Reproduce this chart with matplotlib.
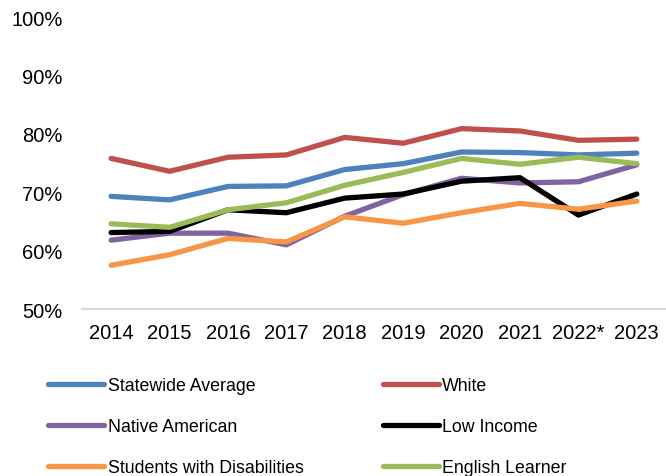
import matplotlib.pyplot as plt

plt.rcParams['font.family'] = ['Liberation Sans', 'DejaVu Sans']

years = ['2014', '2015', '2016', '2017', '2018', '2019', '2020', '2021', '2022*', '2023']

statewide = [69.3, 68.7, 71.0, 71.1, 73.9, 74.9, 76.9, 76.8, 76.4, 76.7]
white = [75.8, 73.6, 76.0, 76.4, 79.4, 78.4, 80.9, 80.5, 78.9, 79.1]
native = [61.8, 63.0, 63.0, 61.0, 65.9, 69.6, 72.4, 71.6, 71.8, 74.7]
low_income = [63.1, 63.3, 67.0, 66.5, 69.0, 69.7, 71.9, 72.5, 66.1, 69.7]
swd = [57.5, 59.3, 62.1, 61.5, 65.8, 64.7, 66.5, 68.1, 67.1, 68.5]
english = [64.6, 64.0, 67.0, 68.2, 71.2, 73.4, 75.8, 74.8, 76.0, 74.9]

series = [
    ('Statewide Average', statewide, '#4F81BD'),
    ('White', white, '#C0504D'),
    ('Native American', native, '#8064A2'),
    ('Low Income', low_income, '#000000'),
    ('Students with Disabilities', swd, '#F79646'),
    ('English Learner', english, '#9BBB59'),
]

fig = plt.figure(figsize=(6.66, 4.77), dpi=100)
ax = fig.add_axes([0.123, 0.35, 0.877, 0.612])

x = range(len(years))
handles = {}
for name, vals, col in series:
    h, = ax.plot(x, vals, color=col, lw=3.8, solid_capstyle='round',
                 solid_joinstyle='round', label=name)
    handles[name] = h

ax.set_xlim(-0.5, len(years) - 0.5)
ax.set_ylim(50, 100)
ax.set_yticks(range(50, 101, 10))
ax.set_yticklabels([f'{v}%' for v in range(50, 101, 10)])
ax.set_xticks(list(x))
ax.set_xticklabels(years)
ax.tick_params(axis='both', length=0, labelsize=14.5, colors='#000000')
ax.tick_params(axis='y', pad=14)
ax.tick_params(axis='x', pad=10)

for s in ['top', 'right', 'left']:
    ax.spines[s].set_visible(False)
ax.spines['bottom'].set_color('#D9D9D9')
ax.spines['bottom'].set_linewidth(1.5)

# legend laid out column-first, like the reference
order = ['Statewide Average', 'Native American', 'Students with Disabilities',
         'White', 'Low Income', 'English Learner']
fig.legend([handles[n] for n in order], order, ncol=2, frameon=False,
           loc='upper left', bbox_to_anchor=(48 / 666, 1 - 378 / 477),
           bbox_transform=fig.transFigure, fontsize=12.8, handlelength=3.15,
           handletextpad=0.2, columnspacing=4.45, labelspacing=1.35,
           borderpad=0, borderaxespad=0)

fig.savefig('out.png', dpi=100)
